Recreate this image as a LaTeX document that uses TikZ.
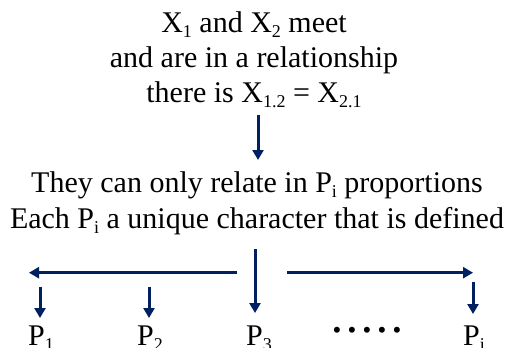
\documentclass[tikz,border=0pt]{standalone}
\usepackage{fontspec}
\setmainfont{Liberation Serif}
\usetikzlibrary{arrows.meta}
\definecolor{navy}{RGB}{0,32,96}
\newcommand\lowsub[1]{\raisebox{-0.17em}{\fontsize{18}{18}\selectfont #1}}
\begin{document}
\begin{tikzpicture}[x=1pt,y=-1pt,
  txt/.style={anchor=base,inner sep=0pt,font=\fontsize{30}{36}\selectfont},
  arr/.style={draw=navy,line width=3pt,-{Triangle[width=11pt,length=10pt]}}]
\useasboundingbox (0,0) rectangle (506,348);
% top block
\node[txt] (l1) at (254,32) {X\lowsub{1} and X\lowsub{2} meet};
\node[txt] (l2) at (254,67) {and are in a relationship};
\node[txt] (l3) at (254,102) {there is X\lowsub{1.2} = X\lowsub{2.1}};
% middle block
\node[txt] (m1) at (257,192) {They can only relate in P\lowsub{i} proportions};
\node[txt] (m2) at (257,228) {Each P\lowsub{i} a unique character that is defined};
% bottom labels
\node[txt,anchor=base west] (p1) at (28,345) {P\lowsub{1}};
\node[txt,anchor=base west] (p2) at (137,345) {P\lowsub{2}};
\node[txt,anchor=base west] (p3) at (246,345) {P\lowsub{3}};
\node[txt,anchor=base west] (pi) at (463,345) {P\lowsub{i}};
\node[anchor=center,inner sep=0pt,font=\fontsize{25}{25}\selectfont] (dots) at (367,333) {• • • • •};
% connector coordinates
\coordinate (a0s) at (258,115);
\coordinate (a0e) at (258,160);
\coordinate (hl) at (237,272.7);
\coordinate (hle) at (29,272.7);
\coordinate (hr) at (287,272.7);
\coordinate (hre) at (473,272.7);
\coordinate (c3s) at (255,249);
\coordinate (c3e) at (255,313);
\coordinate (c1s) at (40,286.5);
\coordinate (c1e) at (40,318);
\coordinate (c2s) at (149,286.5);
\coordinate (c2e) at (149,318);
\coordinate (cis) at (473,282);
\coordinate (cie) at (473,314);
\draw[arr] (a0s) -- (a0e);
\draw[arr] (hl) -- (hle);
\draw[arr] (hr) -- (hre);
\draw[arr] (c3s) -- (c3e);
\draw[arr] (c1s) -- (c1e);
\draw[arr] (c2s) -- (c2e);
\draw[arr] (cis) -- (cie);
\end{tikzpicture}
\end{document}
